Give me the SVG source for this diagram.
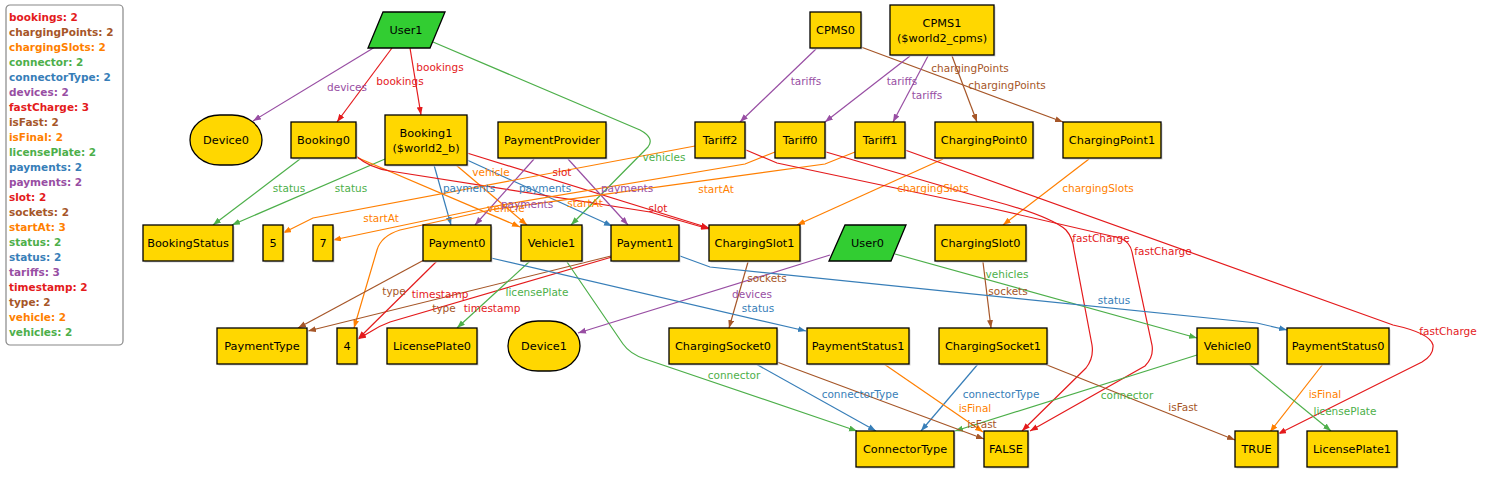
<svg xmlns="http://www.w3.org/2000/svg" width="1505" height="481" viewBox="0 0 1505 481">
<style>
.n{fill:#ffd700;stroke:#000;stroke-width:1.3}
.g{fill:#32cd32;stroke:#000;stroke-width:1.3}
.sh{fill:#d4d4d4}
.t{font-family:"DejaVu Sans",sans-serif;font-size:11.3px;fill:#000;text-anchor:middle}
.e{fill:none;stroke-width:1.2}
.l{font-family:"DejaVu Sans",sans-serif;font-size:10.5px;text-anchor:middle}
.lg{font-family:"DejaVu Sans",sans-serif;font-size:10.5px;font-weight:bold}
.red{stroke:#e41a1c}.brn{stroke:#a65628}.org{stroke:#ff7f00}.grn{stroke:#4daf4a}.blu{stroke:#377eb8}.pur{stroke:#984ea3}
.fred{fill:#e41a1c}.fbrn{fill:#a65628}.forg{fill:#ff7f00}.fgrn{fill:#4daf4a}.fblu{fill:#377eb8}.fpur{fill:#984ea3}
.red{marker-end:url(#ared)}.brn{marker-end:url(#abrn)}.org{marker-end:url(#aorg)}.grn{marker-end:url(#agrn)}.blu{marker-end:url(#ablu)}.pur{marker-end:url(#apur)}
</style>
<defs>
<marker id="ared" markerUnits="userSpaceOnUse" markerWidth="9" markerHeight="7" refX="8" refY="3" orient="auto"><path d="M0,0 L8,3 L0,6 z" fill="#e41a1c"/></marker>
<marker id="abrn" markerUnits="userSpaceOnUse" markerWidth="9" markerHeight="7" refX="8" refY="3" orient="auto"><path d="M0,0 L8,3 L0,6 z" fill="#a65628"/></marker>
<marker id="aorg" markerUnits="userSpaceOnUse" markerWidth="9" markerHeight="7" refX="8" refY="3" orient="auto"><path d="M0,0 L8,3 L0,6 z" fill="#ff7f00"/></marker>
<marker id="agrn" markerUnits="userSpaceOnUse" markerWidth="9" markerHeight="7" refX="8" refY="3" orient="auto"><path d="M0,0 L8,3 L0,6 z" fill="#4daf4a"/></marker>
<marker id="ablu" markerUnits="userSpaceOnUse" markerWidth="9" markerHeight="7" refX="8" refY="3" orient="auto"><path d="M0,0 L8,3 L0,6 z" fill="#377eb8"/></marker>
<marker id="apur" markerUnits="userSpaceOnUse" markerWidth="9" markerHeight="7" refX="8" refY="3" orient="auto"><path d="M0,0 L8,3 L0,6 z" fill="#984ea3"/></marker>
</defs>
<rect width="1505" height="481" fill="#fff"/>

<g id="legend">
<rect x="6" y="5" width="117" height="340" rx="4" fill="#fff" stroke="#888" stroke-width="1.2"/>
<text class="lg fred" x="9" y="20.5">bookings: 2</text>
<text class="lg fbrn" x="9" y="35.5">chargingPoints: 2</text>
<text class="lg forg" x="9" y="50.5">chargingSlots: 2</text>
<text class="lg fgrn" x="9" y="65.5">connector: 2</text>
<text class="lg fblu" x="9" y="80.5">connectorType: 2</text>
<text class="lg fpur" x="9" y="95.5">devices: 2</text>
<text class="lg fred" x="9" y="110.5">fastCharge: 3</text>
<text class="lg fbrn" x="9" y="125.5">isFast: 2</text>
<text class="lg forg" x="9" y="140.5">isFinal: 2</text>
<text class="lg fgrn" x="9" y="155.5">licensePlate: 2</text>
<text class="lg fblu" x="9" y="170.5">payments: 2</text>
<text class="lg fpur" x="9" y="185.5">payments: 2</text>
<text class="lg fred" x="9" y="200.5">slot: 2</text>
<text class="lg fbrn" x="9" y="215.5">sockets: 2</text>
<text class="lg forg" x="9" y="230.5">startAt: 3</text>
<text class="lg fgrn" x="9" y="245.5">status: 2</text>
<text class="lg fblu" x="9" y="260.5">status: 2</text>
<text class="lg fpur" x="9" y="275.5">tariffs: 3</text>
<text class="lg fred" x="9" y="290.5">timestamp: 2</text>
<text class="lg fbrn" x="9" y="305.5">type: 2</text>
<text class="lg forg" x="9" y="320.5">vehicle: 2</text>
<text class="lg fgrn" x="9" y="335.5">vehicles: 2</text>
</g>

<g id="connectors">
<path class="e pur" d="M375,47 L253,121"/>
<path class="e red" d="M392,48 L337,122"/>
<path class="e red" d="M410,48 L421,115"/>
<path class="e grn" d="M433,42 L640,130 Q655,138 648,147 L571,225"/>
<path class="e pur" d="M816,49 L740,122"/>
<path class="e brn" d="M861,47 L1063,122"/>
<path class="e pur" d="M910,56 L825,122"/>
<path class="e pur" d="M928,56 L893,122"/>
<path class="e brn" d="M952,56 L977,122"/>
<path class="e org" d="M943,159 L797,225"/>
<path class="e org" d="M1089,159 L1003,225"/>
<path class="e grn" d="M300,159 L213,225"/>
<path class="e grn" d="M385,159 L232,225"/>
<path class="e blu" d="M434,165 L451,225"/>
<path class="e blu" d="M467,160 L612,226"/>
<path class="e org" d="M456,165 L527,225"/>
<path class="e org" d="M356,157 L520,227"/>
<path class="e red" d="M356,156 Q370,168 390,171 L650,212 L709,229"/>
<path class="e red" d="M467,153 L709,228"/>
<path class="e pur" d="M534,159 L475,225"/>
<path class="e pur" d="M568,159 L628,225"/>
<path class="e org" d="M695,146 L313,218 L283,233"/>
<path class="e org" d="M775,152 L745,164 L490,207 L333,240"/>
<path class="e org" d="M855,152 L825,164 L490,210 L400,230 Q381,236 377,250 L354,328"/>
<path class="e red" d="M826,152 L990,200 Q1050,216 1066,230 Q1073,238 1074,250 L1092,345 Q1094,358 1086,368 L1022,431"/>
<path class="e red" d="M746,150 L777,163 L990,208 L1120,238 Q1130,242 1132,252 L1152,345 Q1154,357 1145,366 L1030,431"/>
<path class="e red" d="M905,150 L1393,325 Q1430,333 1433,345 Q1434,355 1422,362 L1278,434"/>
<path class="e brn" d="M424,260 L298,328"/>
<path class="e brn" d="M611,256 L308,331"/>
<path class="e red" d="M437,261 L358,339"/>
<path class="e red" d="M612,257 L390,322 Q379,326 370,332 L358,339"/>
<path class="e grn" d="M530,261 L457,328"/>
<path class="e grn" d="M567,262 L623,344 Q630,354 645,359 L857,431"/>
<path class="e grn" d="M1197,355 L955,431"/>
<path class="e blu" d="M756,364 L876,431"/>
<path class="e blu" d="M978,364 L921,431"/>
<path class="e brn" d="M777,362 L984,439"/>
<path class="e brn" d="M1042,363 L1235,440"/>
<path class="e org" d="M884,364 L983,432"/>
<path class="e org" d="M1323,364 L1270,432"/>
<path class="e grn" d="M1249,364 L1331,431"/>
<path class="e pur" d="M830,255 L578,333"/>
<path class="e grn" d="M895,254 L1197,338"/>
<path class="e brn" d="M748,262 L729,328"/>
<path class="e brn" d="M983,262 L991,328"/>
<path class="e blu" d="M491,258 L806,331"/>
<path class="e blu" d="M680,256 L710,267 L1257,323 L1287,330"/>

<text class="l fpur" x="347" y="91">devices</text>
<text class="l fred" x="400" y="85">bookings</text>
<text class="l fred" x="440" y="71">bookings</text>
<text class="l fgrn" x="664" y="161">vehicles</text>
<text class="l fpur" x="806" y="85">tariffs</text>
<text class="l fbrn" x="1007" y="89">chargingPoints</text>
<text class="l fpur" x="902" y="85">tariffs</text>
<text class="l fpur" x="927" y="99">tariffs</text>
<text class="l fbrn" x="970" y="72">chargingPoints</text>
<text class="l forg" x="933" y="192">chargingSlots</text>
<text class="l forg" x="1098" y="192">chargingSlots</text>
<text class="l fgrn" x="289" y="192">status</text>
<text class="l fgrn" x="351" y="192">status</text>
<text class="l fblu" x="469" y="192">payments</text>
<text class="l fblu" x="545" y="192">payments</text>
<text class="l forg" x="491" y="176">vehicle</text>
<text class="l forg" x="506" y="212">vehicle</text>
<text class="l fred" x="562" y="176">slot</text>
<text class="l fred" x="658" y="212">slot</text>
<text class="l fpur" x="527" y="208">payments</text>
<text class="l fpur" x="627" y="192">payments</text>
<text class="l forg" x="381" y="222">startAt</text>
<text class="l forg" x="585" y="207">startAt</text>
<text class="l forg" x="716" y="193">startAt</text>
<text class="l fred" x="1101" y="242">fastCharge</text>
<text class="l fred" x="1163" y="255">fastCharge</text>
<text class="l fred" x="1448" y="335">fastCharge</text>
<text class="l fbrn" x="394" y="295">type</text>
<text class="l fbrn" x="444" y="312">type</text>
<text class="l fred" x="440" y="298">timestamp</text>
<text class="l fred" x="492" y="312">timestamp</text>
<text class="l fgrn" x="537" y="296">licensePlate</text>
<text class="l fgrn" x="734" y="379">connector</text>
<text class="l fgrn" x="1127" y="399">connector</text>
<text class="l fblu" x="860" y="398">connectorType</text>
<text class="l fblu" x="1001" y="398">connectorType</text>
<text class="l fbrn" x="982" y="428">isFast</text>
<text class="l fbrn" x="1183" y="411">isFast</text>
<text class="l forg" x="975" y="412">isFinal</text>
<text class="l forg" x="1325" y="398">isFinal</text>
<text class="l fgrn" x="1345" y="415">licensePlate</text>
<text class="l fpur" x="752" y="298">devices</text>
<text class="l fgrn" x="1007" y="278">vehicles</text>
<text class="l fbrn" x="767" y="282">sockets</text>
<text class="l fbrn" x="1008" y="295">sockets</text>
<text class="l fblu" x="758" y="312">status</text>
<text class="l fblu" x="1114" y="304">status</text>
</g>

<g id="User1"><polygon class="g" points="383,12 445,12 430,48 368,48"/><text class="t" x="406" y="34">User1</text></g>
<g id="CPMS0"><rect class="sh" x="811.5" y="13.5" width="51" height="36"/><rect class="n" x="810" y="12" width="51" height="36"/><text class="t" x="835.5" y="34">CPMS0</text></g>
<g id="CPMS1"><rect class="sh" x="891.5" y="6.5" width="104" height="50"/><rect class="n" x="890" y="5" width="104" height="50"/><text class="t" x="942" y="27">CPMS1</text><text class="t" x="942" y="42">($world2_cpms)</text></g>
<g id="Device0"><rect class="n" x="190" y="115" width="72" height="50" rx="30" ry="25"/><text class="t" x="226" y="144">Device0</text></g>
<g id="Booking0"><rect class="sh" x="292.5" y="123.5" width="65" height="36"/><rect class="n" x="291" y="122" width="65" height="36"/><text class="t" x="323.5" y="144">Booking0</text></g>
<g id="Booking1"><rect class="sh" x="386.5" y="116.5" width="82" height="50"/><rect class="n" x="385" y="115" width="82" height="50"/><text class="t" x="426" y="137">Booking1</text><text class="t" x="426" y="152">($world2_b)</text></g>
<g id="PaymentProvider"><rect class="sh" x="499.5" y="123.5" width="108" height="36"/><rect class="n" x="498" y="122" width="108" height="36"/><text class="t" x="552" y="144">PaymentProvider</text></g>
<g id="Tariff2"><rect class="sh" x="696.5" y="123.5" width="50" height="36"/><rect class="n" x="695" y="122" width="50" height="36"/><text class="t" x="720" y="144">Tariff2</text></g>
<g id="Tariff0"><rect class="sh" x="776.5" y="123.5" width="50" height="36"/><rect class="n" x="775" y="122" width="50" height="36"/><text class="t" x="800" y="144">Tariff0</text></g>
<g id="Tariff1"><rect class="sh" x="856.5" y="123.5" width="50" height="36"/><rect class="n" x="855" y="122" width="50" height="36"/><text class="t" x="880" y="144">Tariff1</text></g>
<g id="ChargingPoint0"><rect class="sh" x="936.5" y="123.5" width="98" height="36"/><rect class="n" x="935" y="122" width="98" height="36"/><text class="t" x="984" y="144">ChargingPoint0</text></g>
<g id="ChargingPoint1"><rect class="sh" x="1064.5" y="123.5" width="98" height="36"/><rect class="n" x="1063" y="122" width="98" height="36"/><text class="t" x="1112" y="144">ChargingPoint1</text></g>
<g id="BookingStatus"><rect class="sh" x="144.5" y="226.5" width="90" height="36"/><rect class="n" x="143" y="225" width="90" height="36"/><text class="t" x="188" y="247">BookingStatus</text></g>
<g id="n5"><rect class="sh" x="264.5" y="226.5" width="20" height="36"/><rect class="n" x="263" y="225" width="20" height="36"/><text class="t" x="273" y="247">5</text></g>
<g id="n7"><rect class="sh" x="314.5" y="226.5" width="20" height="36"/><rect class="n" x="313" y="225" width="20" height="36"/><text class="t" x="323" y="247">7</text></g>
<g id="Payment0"><rect class="sh" x="424.5" y="226.5" width="68" height="36"/><rect class="n" x="423" y="225" width="68" height="36"/><text class="t" x="457" y="247">Payment0</text></g>
<g id="Vehicle1"><rect class="sh" x="522.5" y="226.5" width="61" height="36"/><rect class="n" x="521" y="225" width="61" height="36"/><text class="t" x="551.5" y="247">Vehicle1</text></g>
<g id="Payment1"><rect class="sh" x="612.5" y="226.5" width="68" height="36"/><rect class="n" x="611" y="225" width="68" height="36"/><text class="t" x="645" y="247">Payment1</text></g>
<g id="ChargingSlot1"><rect class="sh" x="710.5" y="226.5" width="91" height="36"/><rect class="n" x="709" y="225" width="91" height="36"/><text class="t" x="754.5" y="247">ChargingSlot1</text></g>
<g id="User0"><polygon class="g" points="845,225 906,225 891,261 829,261"/><text class="t" x="867.5" y="247">User0</text></g>
<g id="ChargingSlot0"><rect class="sh" x="936.5" y="226.5" width="91" height="36"/><rect class="n" x="935" y="225" width="91" height="36"/><text class="t" x="980.5" y="247">ChargingSlot0</text></g>
<g id="PaymentType"><rect class="sh" x="218.5" y="329.5" width="90" height="36"/><rect class="n" x="217" y="328" width="90" height="36"/><text class="t" x="262" y="350">PaymentType</text></g>
<g id="n4"><rect class="sh" x="338.5" y="329.5" width="20" height="36"/><rect class="n" x="337" y="328" width="20" height="36"/><text class="t" x="347" y="350">4</text></g>
<g id="LicensePlate0"><rect class="sh" x="388.5" y="329.5" width="90" height="36"/><rect class="n" x="387" y="328" width="90" height="36"/><text class="t" x="432" y="350">LicensePlate0</text></g>
<g id="Device1"><rect class="n" x="508" y="321" width="72" height="50" rx="30" ry="25"/><text class="t" x="544" y="350">Device1</text></g>
<g id="ChargingSocket0"><rect class="sh" x="670.5" y="329.5" width="108" height="36"/><rect class="n" x="669" y="328" width="108" height="36"/><text class="t" x="723" y="350">ChargingSocket0</text></g>
<g id="PaymentStatus1"><rect class="sh" x="808.5" y="329.5" width="102" height="36"/><rect class="n" x="807" y="328" width="102" height="36"/><text class="t" x="858" y="350">PaymentStatus1</text></g>
<g id="ChargingSocket1"><rect class="sh" x="940.5" y="329.5" width="108" height="36"/><rect class="n" x="939" y="328" width="108" height="36"/><text class="t" x="993" y="350">ChargingSocket1</text></g>
<g id="Vehicle0"><rect class="sh" x="1198.5" y="329.5" width="61" height="36"/><rect class="n" x="1197" y="328" width="61" height="36"/><text class="t" x="1227.5" y="350">Vehicle0</text></g>
<g id="PaymentStatus0"><rect class="sh" x="1288.5" y="329.5" width="102" height="36"/><rect class="n" x="1287" y="328" width="102" height="36"/><text class="t" x="1338" y="350">PaymentStatus0</text></g>
<g id="ConnectorType"><rect class="sh" x="857.5" y="432.5" width="98" height="36"/><rect class="n" x="856" y="431" width="98" height="36"/><text class="t" x="905" y="453">ConnectorType</text></g>
<g id="FALSE"><rect class="sh" x="985.5" y="432.5" width="44" height="36"/><rect class="n" x="984" y="431" width="44" height="36"/><text class="t" x="1006" y="453">FALSE</text></g>
<g id="TRUE"><rect class="sh" x="1236.5" y="432.5" width="43" height="36"/><rect class="n" x="1235" y="431" width="43" height="36"/><text class="t" x="1256.5" y="453">TRUE</text></g>
<g id="LicensePlate1"><rect class="sh" x="1308.5" y="432.5" width="90" height="36"/><rect class="n" x="1307" y="431" width="90" height="36"/><text class="t" x="1352" y="453">LicensePlate1</text></g>
</svg>
